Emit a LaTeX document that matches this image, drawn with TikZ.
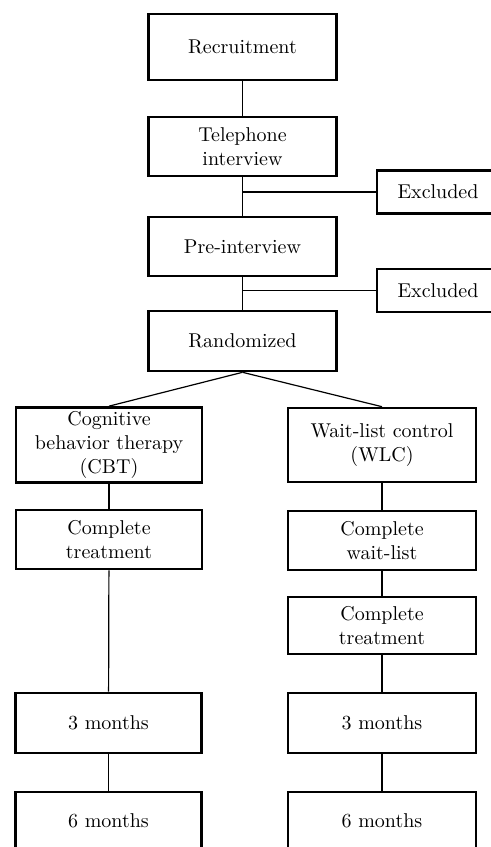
\documentclass[tikz,border=0pt]{standalone}
\usetikzlibrary{positioning}

\begin{document}
\begin{tikzpicture}[
  x=0.5pt,y=-0.5pt,
  box/.style={draw=black,line width=1.3pt,fill=white,align=center,inner sep=2pt,
    font=\normalsize,minimum width=94pt},
  excl/.style={box,minimum width=61pt,minimum height=21.5pt},
  link/.style={draw=black,line width=.6pt}
]
\useasboundingbox (0,0) rectangle (491,847);

% Enrolment path down to randomization.
\node[box,minimum height=33pt] (recruit) at (242.5,47) {Recruitment};
\node[box,minimum height=29.5pt] (phone) at (242.5,146.5) {Telephone\\interview};
\node[box,minimum height=29.5pt] (pre) at (242.5,246.5) {Pre-interview};
\node[box,minimum height=30pt] (rand) at (242.5,341) {Randomized};
\node[excl] (excla) at (438,192) {Excluded};
\node[excl] (exclb) at (438,290.5) {Excluded};
\draw[link] (recruit) -- (phone);
\draw[link] (phone) -- (pre);
\draw[link] (pre) -- (rand);
\draw[link] (phone.south |- excla.west) -- (excla.west);
\draw[link] (pre.south |- exclb.west) -- (exclb.west);

% Treatment arm (left) and wait-list arm (right).
\node[box,minimum width=93pt,minimum height=37pt] (cbt) at (109,445)
  {Cognitive\\behavior therapy\\(CBT)};
\node[box,minimum height=37pt] (wlc) at (382,445) {Wait-list control\\(WLC)};
\node[box,minimum width=93pt,minimum height=29.5pt] (donea) at (109,539.5)
  {Complete\\treatment};
\node[box,minimum height=29.5pt] (waitb) at (382,540.5) {Complete\\wait-list};
\node[box,minimum height=28.5pt] (doneb) at (382,625.5) {Complete\\treatment};
\node[box,minimum width=93pt,minimum height=30pt] (threea) at (108.5,723) {3 months};
\node[box,minimum height=30pt] (threeb) at (382,723) {3 months};
\node[box,minimum width=93pt,minimum height=29pt] (sixa) at (108.5,821) {6 months};
\node[box,minimum height=29pt] (sixb) at (382,821) {6 months};

\draw[link] (rand.south) -- (cbt.north);
\draw[link] (rand.south) -- (wlc.north);
\draw[link] (cbt) -- (donea);
\draw[link] (donea) -- (threea);
\draw[link] (threea) -- (sixa);
\draw[link] (wlc) -- (waitb);
\draw[link] (waitb) -- (doneb);
\draw[link] (doneb) -- (threeb);
\draw[link] (threeb) -- (sixb);
\end{tikzpicture}
\end{document}
